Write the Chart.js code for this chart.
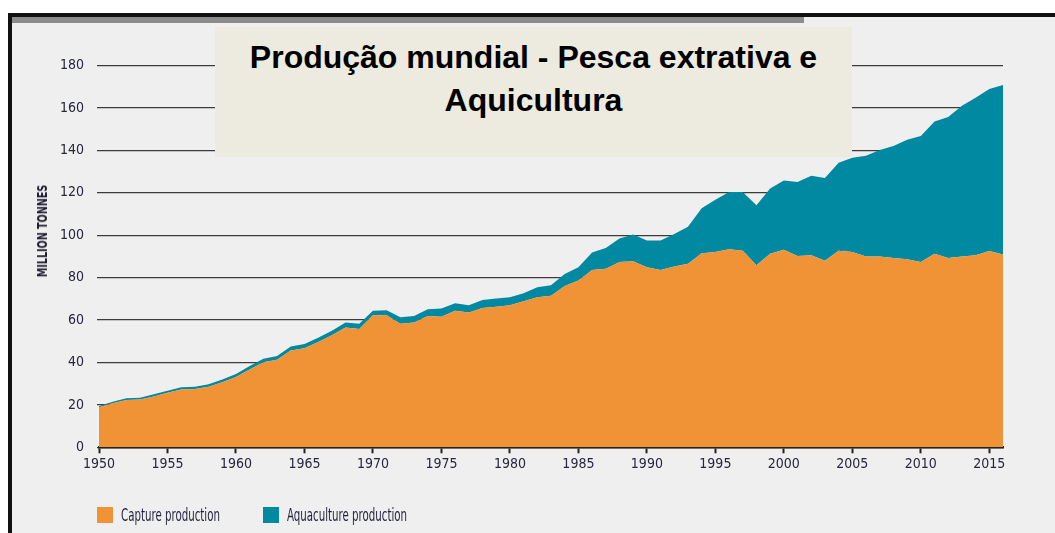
<!DOCTYPE html>
<html>
<head>
<meta charset="utf-8">
<script src="https://cdn.jsdelivr.net/npm/chart.js@4.4.0/dist/chart.umd.min.js"></script>
<style>
  html, body { margin:0; padding:0; background:#ffffff; }
  #wrap { position:relative; width:1055px; height:533px; overflow:hidden; background:#ffffff; }
  #frameTop { position:absolute; left:8px; top:13px; width:1047px; height:4px; background:#111; }
  #frameLeft { position:absolute; left:8px; top:13px; width:4px; height:520px; background:#111; }
  #inner { position:absolute; left:12px; top:17px; width:1043px; height:516px; background:#efefef; }
  #grayBar { position:absolute; left:12px; top:17px; width:792px; height:6px; background:#8c8c8c; }
  #chartCanvas { position:absolute; left:0; top:0; }
  #titleBox { position:absolute; left:215px; top:27px; width:637px; height:130px; background:#edeae0;
              font-family:"Liberation Sans", Arial, sans-serif; font-weight:bold; font-size:32px;
              color:#000; text-align:center; line-height:42.6px; padding-top:9px; box-sizing:border-box; }
  #yTitle { position:absolute; left:42px; top:231px; transform:translate(-50%,-50%) rotate(-90deg) scaleX(0.76);
            font-family:"Liberation Sans Narrow","DejaVu Sans Condensed",sans-serif; font-weight:bold;
            font-size:14px; color:#1e1e30; white-space:nowrap; }
  .leg { position:absolute; top:507px; height:16px; display:flex; align-items:center; }
  .leg .sw { width:16px; height:16px; margin-right:8px; flex:none; }
  .leg .tx { font-family:"Liberation Sans Narrow","DejaVu Sans Condensed",sans-serif; font-size:17px;
             color:#1f1f3a; white-space:nowrap; transform:scaleX(0.67); transform-origin:left center; }
</style>
</head>
<body>
<div id="wrap">
  <div id="frameTop"></div>
  <div id="frameLeft"></div>
  <div id="inner"></div>
  <div id="grayBar"></div>
  <canvas id="chartCanvas" width="1055" height="533"></canvas>
  <div id="titleBox">Produção mundial - Pesca extrativa e<br>Aquicultura</div>
  <div id="yTitle">MILLION TONNES</div>
  <div id="legend"></div>
</div>
<script>
const years = [];
for (let y = 1950; y <= 2016; y++) years.push(y);

const captureProduction = [
  18.9, 20.8, 22.3, 22.5, 24.0, 25.7, 27.2, 27.5, 28.5, 30.7,
  33.1, 36.7, 40.1, 41.3, 45.6, 46.7, 49.6, 52.8, 56.5, 55.8,
  62.2, 62.3, 58.2, 58.8, 61.9, 61.6, 64.4, 63.5, 65.7, 66.3,
  67.0, 68.9, 70.8, 71.4, 76.1, 78.6, 83.6, 84.2, 87.4, 87.7,
  84.9, 83.6, 85.2, 86.5, 91.5, 92.1, 93.4, 92.7, 85.8, 91.2,
  93.1, 90.2, 90.6, 88.0, 92.7, 92.1, 89.9, 89.9, 89.3, 88.7,
  87.4, 91.2, 89.3, 89.9, 90.6, 92.5, 90.9
];

const aquacultureProduction = [
  0.6, 0.7, 0.8, 0.9, 1.0, 1.0, 1.1, 1.1, 1.2, 1.3,
  1.5, 1.6, 1.7, 1.8, 1.9, 2.0, 2.1, 2.2, 2.3, 2.4,
  2.2, 2.3, 3.1, 3.1, 3.2, 3.8, 3.5, 3.5, 3.8, 3.8,
  3.8, 3.7, 4.7, 5.0, 5.6, 6.3, 8.2, 9.8, 11.0, 12.6,
  12.6, 13.9, 15.4, 17.5, 21.2, 24.6, 27.0, 27.7, 28.3, 30.8,
  32.7, 34.9, 37.4, 39.0, 41.5, 44.4, 47.5, 50.3, 52.7, 56.3,
  59.4, 62.4, 66.4, 71.1, 74.2, 76.4, 79.9
];

const seriesNames = ["Capture production", "Aquaculture production"];
const seriesColors = ["#f09336", "#0089a1"];
const yTicks = [0, 20, 40, 60, 80, 100, 120, 140, 160, 180];
const xTickYears = [1950, 1955, 1960, 1965, 1970, 1975, 1980, 1985, 1990, 1995, 2000, 2005, 2010, 2015];

// HTML legend built from series names/colors
const legendEl = document.getElementById('legend');
const legendLefts = [97, 263];
seriesNames.forEach((n, i) => {
  const d = document.createElement('div');
  d.className = 'leg';
  d.style.left = legendLefts[i] + 'px';
  d.innerHTML = '<div class="sw" style="background:' + seriesColors[i] + '"></div><div class="tx"></div>';
  d.querySelector('.tx').textContent = n;
  legendEl.appendChild(d);
});

const tickFont = { family: "'Liberation Sans Narrow','DejaVu Sans Condensed',sans-serif", size: 14 };
const tickColor = '#26263e';

new Chart(document.getElementById('chartCanvas'), {
  type: 'line',
  data: {
    datasets: [
      {
        label: seriesNames[0],
        data: years.map((y, i) => ({ x: y, y: captureProduction[i] })),
        backgroundColor: seriesColors[0],
        borderWidth: 0,
        pointRadius: 0,
        fill: 'origin',
        tension: 0
      },
      {
        label: seriesNames[1],
        data: years.map((y, i) => ({ x: y, y: aquacultureProduction[i] })),
        backgroundColor: seriesColors[1],
        borderWidth: 0,
        pointRadius: 0,
        fill: '-1',
        tension: 0
      }
    ]
  },
  options: {
    responsive: false,
    animation: false,
    layout: { padding: { left: 0, right: 52, top: 65.5, bottom: 0 } },
    plugins: { legend: { display: false }, tooltip: { enabled: false } },
    scales: {
      x: {
        type: 'linear',
        min: 1950,
        max: 2016,
        afterBuildTicks: (s) => { s.ticks = xTickYears.map(v => ({ value: v })); },
        afterFit: (s) => { s.height = 533 - 447.3 - 0; },
        ticks: { callback: (v) => String(v), font: tickFont, color: tickColor, padding: 3, maxRotation: 0, autoSkip: false },
        grid: { drawOnChartArea: false, drawTicks: true, tickLength: 6, tickWidth: 2, tickColor: '#222' },
        border: { display: true, color: '#222', width: 2.5 }
      },
      y: {
        stacked: true,
        min: 0,
        max: 180,
        afterBuildTicks: (s) => { s.ticks = yTicks.map(v => ({ value: v })); },
        afterFit: (s) => { s.width = 99; },
        ticks: { callback: (v) => String(v), font: tickFont, color: tickColor, padding: 13 },
        grid: { color: '#3c3c3c', lineWidth: 1.2, drawTicks: true, tickLength: 2 },
        border: { display: false }
      }
    }
  }
});
</script>
</body>
</html>
